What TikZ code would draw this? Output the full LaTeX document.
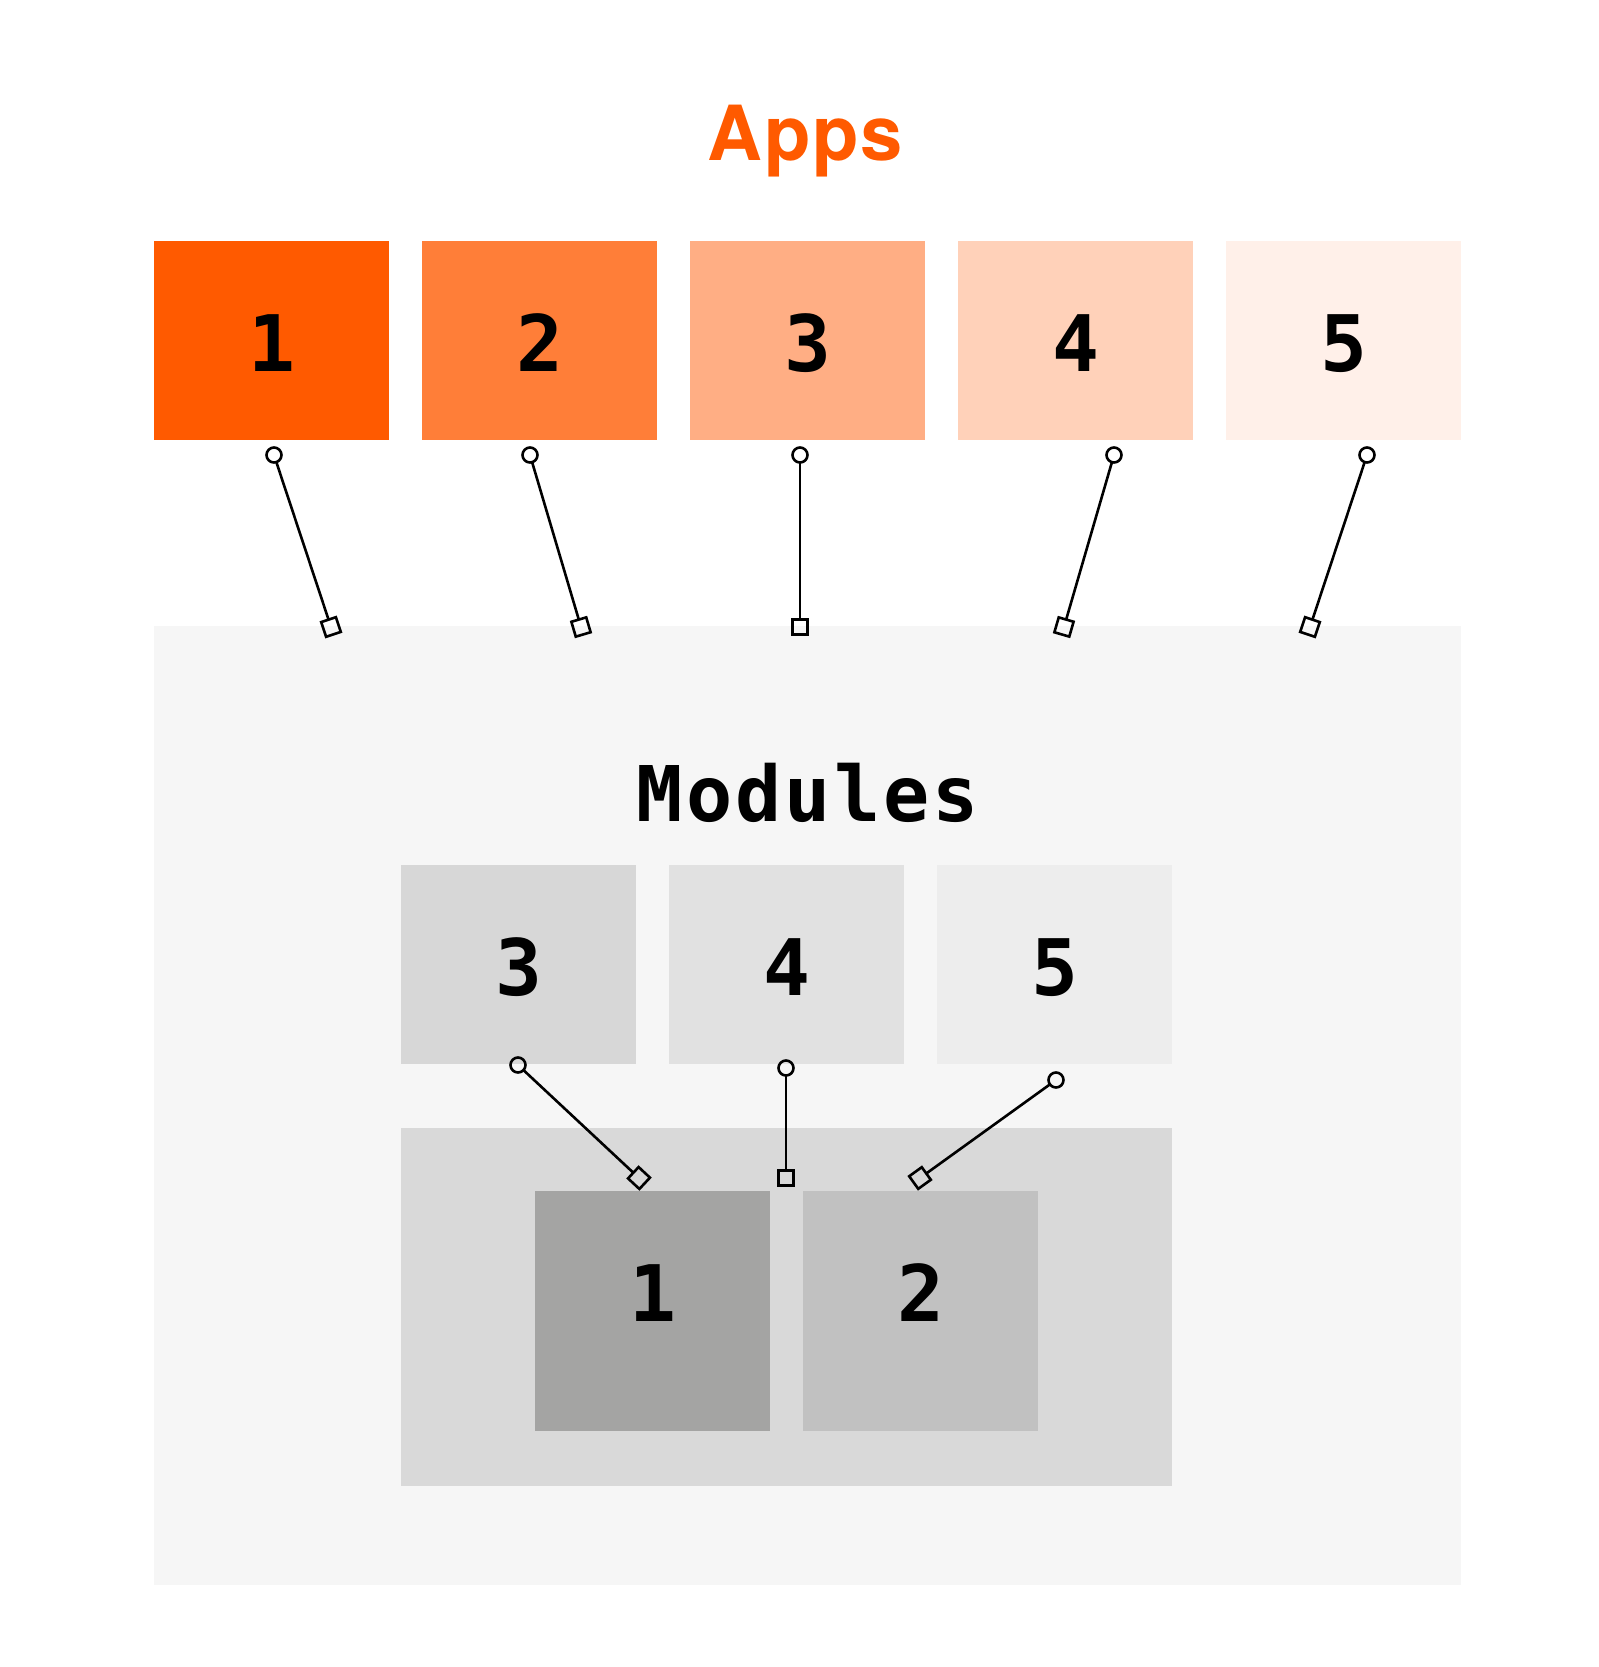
\documentclass[tikz,border=0pt]{standalone}
\usepackage{fontspec}
\setmainfont{TeX Gyre Heros}
\newfontfamily\monofnt{DejaVu Sans Mono}
\newfontfamily\monowide{DejaVu Sans Mono}[LetterSpace=4.0]
\newfontfamily\titlefnt{TeX Gyre Heros}[LetterSpace=2.0]
\usetikzlibrary{arrows.meta}
\definecolor{appsorange}{HTML}{FF5A00}
\definecolor{appA}{HTML}{FF5A00}
\definecolor{appB}{HTML}{FF7E38}
\definecolor{appC}{HTML}{FFAE84}
\definecolor{appD}{HTML}{FFD1B9}
\definecolor{appE}{HTML}{FFF0E9}
\definecolor{outerbg}{HTML}{F6F6F6}
\definecolor{modC}{HTML}{D7D7D7}
\definecolor{modD}{HTML}{E1E1E1}
\definecolor{modE}{HTML}{EDEDED}
\definecolor{corebg}{HTML}{D9D9D9}
\definecolor{coreA}{HTML}{A4A4A3}
\definecolor{coreB}{HTML}{C1C1C1}
\begin{document}
\begin{tikzpicture}[x=0.5pt,y=-0.5pt,
  numbox/.style={rectangle, draw=none, inner sep=0pt, minimum width=117.5pt,
    minimum height=99.5pt, text height=65pt, text depth=34.5pt,
    font=\monofnt\bfseries\fontsize{39}{39}\selectfont},
  corebox/.style={numbox, minimum height=120pt, text depth=55pt},
  region/.style={rectangle, draw=none, inner sep=0pt},
  link/.style={line width=1.3pt, shorten <=3.75pt, shorten >=3.9pt},
  circ/.style={circle, draw, line width=1.3pt, minimum size=7.5pt, inner sep=0pt},
  sq/.style={rectangle, draw, line width=1.3pt, minimum size=7.75pt, inner sep=0pt}]
\useasboundingbox (0,0) rectangle (1599,1667);

% title
\node[anchor=base, text=appsorange, font=\titlefnt\bfseries\fontsize{38}{38}\selectfont] (apps) at (805,160) {Apps};

% app boxes
\node[numbox, fill=appA] (a1) at (271.5,340.5) {1};
\node[numbox, fill=appB] (a2) at (539.5,340.5) {2};
\node[numbox, fill=appC] (a3) at (807.5,340.5) {3};
\node[numbox, fill=appD] (a4) at (1075.5,340.5) {4};
\node[numbox, fill=appE] (a5) at (1343.5,340.5) {5};

% modules region
\node[region, fill=outerbg, minimum width=653.5pt, minimum height=479.5pt] (outer) at (807.5,1105.5) {};
\node[anchor=base, font=\monowide\bfseries\fontsize{38.4}{38.4}\selectfont] (mods) at (808,821) {Modules};

\node[numbox, fill=modC] (m3) at (518.5,964.5) {3};
\node[numbox, fill=modD] (m4) at (786.5,964.5) {4};
\node[numbox, fill=modE] (m5) at (1054.5,964.5) {5};

\node[region, fill=corebg, minimum width=385.5pt, minimum height=179pt] (core) at (786.5,1307) {};
\node[corebox, fill=coreA] (k1) at (652.5,1311) {1};
\node[corebox, fill=coreB] (k2) at (920.5,1311) {2};

% connector end points
\coordinate (ca1) at (274,455);   \coordinate (sa1) at (331,627);
\coordinate (ca2) at (530,455);   \coordinate (sa2) at (581,627);
\coordinate (ca3) at (800,455);   \coordinate (sa3) at (800,627);
\coordinate (ca4) at (1114,455);  \coordinate (sa4) at (1064,627);
\coordinate (ca5) at (1367,455);  \coordinate (sa5) at (1310,627);
\coordinate (cm3) at (518,1065);  \coordinate (sm3) at (639,1178);
\coordinate (cm4) at (786,1068);  \coordinate (sm4) at (786,1178);
\coordinate (cm5) at (1056,1080); \coordinate (sm5) at (920,1178);

\foreach \n in {a1,a2,a3,a4,a5,m3,m4,m5}{
  \draw[link] (c\n) -- (s\n) node[pos=0, circ] {} node[pos=1, sloped, sq] {};
}
\end{tikzpicture}
\end{document}
